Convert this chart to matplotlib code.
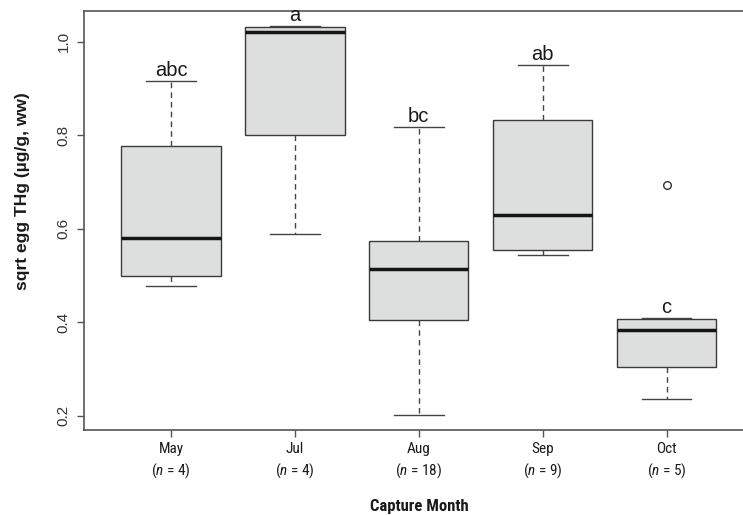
import matplotlib
matplotlib.use("Agg")
import matplotlib.pyplot as plt

# values (sqrt egg THg, ug/g ww)
months = ["May", "Jul", "Aug", "Sep", "Oct"]
n_fish = [4, 4, 18, 9, 5]
whisk_lo = [0.478, 0.588, 0.202, 0.544, 0.235]
q1 = [0.4995, 0.800, 0.405, 0.5545, 0.305]
med = [0.580, 1.021, 0.5145, 0.629, 0.383]
q3 = [0.7775, 1.031, 0.574, 0.832, 0.4075]
whisk_hi = [0.916, 1.034, 0.818, 0.950, 0.409]
fliers = [[], [], [], [], [0.6935]]
letters = ["abc", "a", "bc", "ab", "c"]

plt.rcParams["font.family"] = ["Liberation Sans", "DejaVu Sans"]
plt.rcParams["mathtext.fontset"] = "custom"
plt.rcParams["mathtext.rm"] = "Roboto Condensed"
plt.rcParams["mathtext.it"] = "Roboto Condensed:italic"

narrow = ["Roboto Condensed", "Archivo Narrow", "Liberation Sans"]
frame_col = "#555555"
ink = "#1a1a1a"

fig = plt.figure(figsize=(7.43, 5.15), dpi=100)
ax = fig.add_axes([84.3 / 743, 85 / 515, (753.4 - 84.3) / 743, 419 / 515])

stats = []
for i in range(len(months)):
    stats.append(dict(whislo=whisk_lo[i], q1=q1[i], med=med[i], q3=q3[i],
                      whishi=whisk_hi[i], fliers=fliers[i], label=months[i]))

ax.bxp(stats, positions=range(1, 6), widths=0.8, capwidths=0.4,
       patch_artist=True, showfliers=True,
       boxprops=dict(facecolor="#dddfde", edgecolor="#3a3a3a", linewidth=1.0),
       medianprops=dict(color="#151515", linewidth=2.5, solid_capstyle="butt"),
       whiskerprops=dict(color="#444444", linewidth=1.0, linestyle=(0, (4, 3))),
       capprops=dict(color="#444444", linewidth=1.0),
       flierprops=dict(marker="o", markerfacecolor="none",
                       markeredgecolor="#333333", markersize=5.5,
                       markeredgewidth=1.0))

# significance letters just above the upper whisker
for i, lab in enumerate(letters):
    ax.annotate(lab, (i + 1, whisk_hi[i]), xytext=(0, 0.5),
                textcoords="offset points", ha="center", va="bottom",
                fontsize=14.5, color=ink)

ax.set_xlim(0.3, 5.7)
ax.set_ylim(0.1694, 1.0657)

ax.set_yticks([0.2, 0.4, 0.6, 0.8, 1.0])
ax.set_yticklabels(["0.2", "0.4", "0.6", "0.8", "1.0"], rotation=90,
                   va="center", fontsize=11, color="#333333")
ax.set_xticks(range(1, 6))
ax.set_xticklabels([""] * 5)
ax.tick_params(axis="both", length=5, width=1.0, color=frame_col, pad=5)

for sp in ["left", "bottom", "top", "right"]:
    ax.spines[sp].set_color(frame_col)
    ax.spines[sp].set_linewidth(1.2)

# two-line category labels: month name, then (n = k)
for i, (m, n) in enumerate(zip(months, n_fish)):
    ax.annotate(m, (i + 1, 0), xycoords=("data", "axes fraction"),
                xytext=(0, -13.7), textcoords="offset points", ha="center",
                va="center", fontsize=11, family=narrow, color=ink)
    ax.annotate("(" + r"$\mathit{n}$" + " = %d)" % n, (i + 1, 0),
                xycoords=("data", "axes fraction"), xytext=(0, -29),
                textcoords="offset points", ha="center", va="center",
                fontsize=11, family=narrow, color=ink)

fig.text(419 / 743, 1 - 507 / 515, "Capture Month", ha="center", va="center",
         fontsize=12, fontweight="bold", family=narrow, color=ink)
fig.text(23 / 743, 1 - 191 / 515, "sqrt egg THg (\u00b5g/g, ww)", rotation=90,
         ha="center", va="center", fontsize=12.5, fontweight="bold",
         color=ink)

fig.savefig("out.png", dpi=100, facecolor="white")
